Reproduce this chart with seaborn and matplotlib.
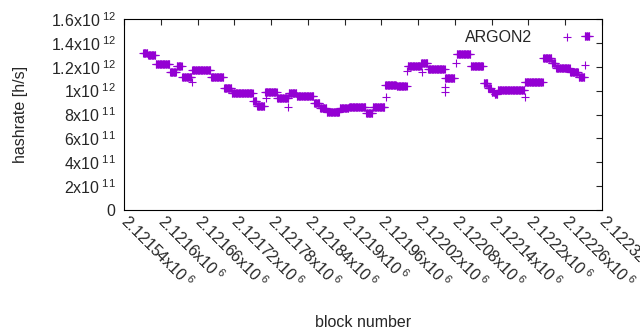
import numpy as np
import pandas as pd
import matplotlib
matplotlib.use('Agg')
import matplotlib.pyplot as plt
import seaborn as sns

# block offsets relative to 2121540, [start, end) runs of constant hashrate
block_base = 2121540
seg_start = [31, 39, 52, 75, 86, 95, 111, 142, 163, 176, 211, 217, 230, 250, 269,
             282, 310, 320, 331, 352, 367, 395, 406, 426, 445, 463, 485, 496, 524,
             543, 566, 587, 594, 600, 605, 610, 654, 684, 698, 705, 728, 742, 752]
seg_end = [39, 52, 75, 86, 95, 111, 142, 163, 176, 211, 217, 230, 250, 269, 282,
           310, 320, 331, 352, 367, 395, 406, 426, 445, 462, 485, 496, 524, 540,
           566, 587, 594, 600, 605, 610, 654, 684, 698, 705, 728, 742, 752, 760]
seg_rate = [1.315, 1.30, 1.227, 1.152, 1.206, 1.11, 1.175, 1.118, 1.018, 0.976,
            0.913, 0.871, 0.992, 0.938, 0.98, 0.955, 0.90, 0.858, 0.825, 0.854,
            0.867, 0.812, 0.862, 1.047, 1.04, 1.21, 1.23, 1.177, 1.106, 1.307,
            1.21, 1.06, 1.02, 0.99, 0.97, 1.005, 1.072, 1.277, 1.235, 1.193,
            1.152, 1.11, 1.461]

# isolated points
odd_block = [111, 232, 268, 428, 462, 486, 524, 524, 541, 654, 752]
odd_rate = [1.072, 0.938, 0.863, 0.946, 1.164, 1.156, 0.99, 1.03, 1.231, 0.946, 1.214]

x_tick_text = ['2.12154', '2.1216', '2.12166', '2.12172', '2.12178', '2.12184',
               '2.1219', '2.12196', '2.12202', '2.12208', '2.12214', '2.1222',
               '2.12226', '2.12232']
y_tick_text = ['0', '2x10$^{\\;11}$', '4x10$^{\\;11}$', '6x10$^{\\;11}$', '8x10$^{\\;11}$',
               '1x10$^{\\;12}$', '1.2x10$^{\\;12}$', '1.4x10$^{\\;12}$', '1.6x10$^{\\;12}$']

blocks, rates = [], []
for s, e, r in zip(seg_start, seg_end, seg_rate):
    for b in range(s, e):
        blocks.append(block_base + b)
        rates.append(r * 1e12)
for b, r in zip(odd_block, odd_rate):
    blocks.append(block_base + b)
    rates.append(r * 1e12)
df = pd.DataFrame({'block': blocks, 'hashrate': rates})

sns.set_style('white')
plt.rcParams['font.family'] = ['Liberation Sans', 'DejaVu Sans']
plt.rcParams['mathtext.fontset'] = 'custom'
plt.rcParams['mathtext.rm'] = 'Liberation Sans'
plt.rcParams['mathtext.default'] = 'rm'

fig = plt.figure(figsize=(6.4, 3.3), dpi=100)
ax = fig.add_axes([124 / 640, 1 - 210 / 330, 478 / 640, 191 / 330])

sns.scatterplot(data=df, x='block', y='hashrate', marker='+', color='#9400D3',
                s=34, linewidth=0.8, label='ARGON2', ax=ax)

ax.set_xlim(block_base, block_base + 780)
ax.set_ylim(0, 1.6e12)
ax.set_xticks([block_base + 60 * i for i in range(len(x_tick_text))])
ax.set_xticklabels([t + 'x10$^{\\;6}$' for t in x_tick_text], rotation=-45,
                   ha='left', va='center', rotation_mode='anchor', fontsize=11.5)
ax.set_yticks([2e11 * i for i in range(len(y_tick_text))])
ax.set_yticklabels(y_tick_text, fontsize=11.5)
ax.tick_params(direction='in', length=4, width=0.8, top=True, right=True,
               labeltop=False, labelright=False, pad=6)
ax.tick_params(axis='x', pad=6)
for sp in ax.spines.values():
    sp.set_visible(True)
    sp.set_color('black')
    sp.set_linewidth(0.8)

ax.set_xlabel('block number', fontsize=11.5)
ax.set_ylabel('hashrate [h/s]', fontsize=11.5)
ax.xaxis.set_label_coords(0.5, -0.55)
ax.yaxis.set_label_coords(-0.2, 0.5)

ax.legend(loc='upper right', bbox_to_anchor=(0.99, 1.02), frameon=False,
          markerfirst=False, fontsize=11.5, handletextpad=1.2, scatterpoints=1)

fig.savefig('out.png', dpi=100)
